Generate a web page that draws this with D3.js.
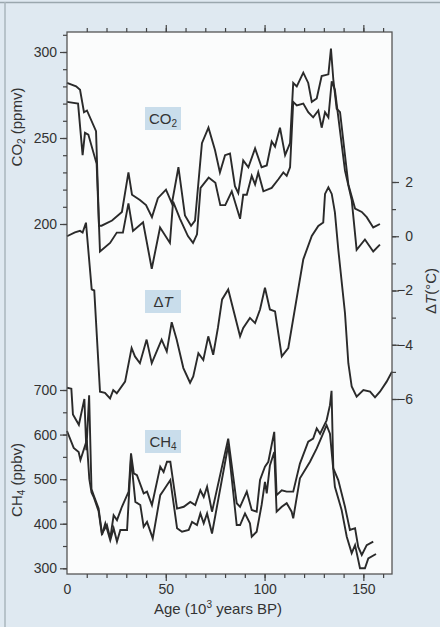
<!DOCTYPE html>
<html>
<head>
<meta charset="utf-8">
<script src="https://cdn.jsdelivr.net/npm/d3@7"></script>
<style>
  body { margin: 0; background: #dfe9f1; }
  svg { display: block; font-family: "Liberation Sans", Arial, sans-serif; }
  .tick line { stroke: #444; }
</style>
</head>
<body>
<div id="chart"></div>
<script>
// Vostok record, values (age in 10^3 years BP)
const co2UpperAge = [0,4.6,6.6,8.6,10.1,14.7,16.2,17.5,22.8,27.8,31.1,32.9,36.9,40,43,46,50.1,53.1,56.4,59.7,62.8,64.8,68.3,71.6,74.9,77.4,80,82.5,85,86.7,89.2,91.8,95.2,98.5,101.1,103.6,105.3,107.8,110.4,112.9,114.5,116.3,119.6,122.1,123.9,126.4,128.9,132.3,133.6,134.8,136.5,138.2,142.4,145.8,149.2,151.7,155,158.4];
const co2Upper    = [282,280,278,265,266,254,199,199,202,207,230,217,214,211,204,215,220,212,233,205,199,202,247,256,243,230,240,241,222,218,237,233,244,233,234,248,245,256,240,247,282,280,288,282,271,273,286,287,302,284,267,265,223,209,207,204,198,200];

const co2LowerAge = [0,5.6,7.9,9.1,10.8,15,16.7,21.8,25.2,28.3,31.1,33.4,38.5,42.9,47.1,52.1,53.7,57.2,61.2,63.8,65.8,67.6,71.7,75.1,77.6,80.1,83.4,87.6,89.2,91,93.5,95.2,96.8,99.4,103.6,107,109.5,111.2,112.9,114.5,116.3,119.6,122.1,124.6,127.2,128.9,130.6,132.3,134,135.6,140.7,144.1,146.6,150.8,155,158.4];
const co2Lower    = [271,270,240,253,252,235,184,189,195,195,212,196,201,174,198,189,213,203,193,189,194,221,227,224,211,211,219,203,217,217,228,223,230,219,221,226,230,228,233,271,269,270,265,262,266,256,265,262,283,278,231,214,185,191,184,188];

const tempAge = [0,4,6.6,7.9,9.6,12.5,13.8,16.7,19.2,21.8,23.4,25.2,29.4,32.7,34.4,36.9,40.3,42.9,47.9,50.5,53,55.5,58.9,62.3,63.9,66.5,69,71.5,74,76.4,78.5,81.6,87.6,89.2,92.6,95.2,97.7,100.2,102.7,105.3,108.7,112,119.6,123.9,127.2,129.7,130.6,132.3,134,135.6,137.3,140.7,142.4,144.1,146.6,150,153.4,155.9,158.4,161.8,164.5];
const temp    = [0,0.14,0.2,0.14,0.5,-1.96,-2,-5.73,-5.77,-5.98,-5.67,-5.79,-5.36,-4.12,-4.43,-4.68,-3.81,-4.68,-3.81,-4.25,-3.17,-3.81,-4.86,-5.4,-5.17,-4.31,-4.56,-3.69,-4.37,-3.37,-2.33,-1.96,-3.69,-3.38,-3.01,-3.2,-2.7,-1.9,-2.7,-2.77,-4.43,-4.12,-0.85,0.01,0.38,0.51,1.56,1.8,1.56,0.88,-0.48,-2.83,-4.68,-5.54,-5.91,-5.67,-5.73,-5.94,-5.73,-5.36,-4.99];

const ch4UpperAge = [0,2.2,3,6,8.8,9.8,11.2,12.4,13.5,16,17.7,20.2,21.9,23.6,25.3,27.8,31.2,32.4,33.8,35.4,38.8,40.5,43,47.2,48.9,50.6,52.3,55.7,59.1,62.4,64.9,67.5,69.2,70.9,73.4,81.6,85.9,87.6,91,93.5,96,97.7,100.2,101.9,104.9,106.1,108.7,111.2,114.5,117.9,122.1,124.6,126.4,128.1,131.4,133.1,133.9,134.8,137.3,140.7,143.2,145.8,147.4,149.2,151.7,155];
const ch4Upper    = [705,703,645,622,680,565,688,478,464,434,378,397,367,419,408,438,472,558,513,509,468,472,442,528,516,539,539,434,438,449,442,475,460,483,427,591,446,438,472,431,427,498,528,539,606,464,475,472,472,535,584,591,614,602,632,666,698,524,498,438,386,390,348,330,352,360];

const ch4LowerAge = [0,3.4,5.9,6.8,10,11.3,12.4,13.5,16,17.7,19.4,21.9,23.6,25.3,27,30.4,32.4,34.6,37.1,38.8,40.5,43.4,47.2,48.9,52.3,55.7,58.2,61.6,63.3,65.8,67.5,69.2,70.9,73.4,81.6,85.9,87.6,90.1,92.6,93.5,96,98.5,100.2,101.1,102.7,104.9,106.1,108.7,111.2,113.7,114.5,117.9,123,126.4,128.9,131.4,133.1,135.6,139,141.6,144.1,145.8,147.4,148.3,150.8,152.5,156.4];
const ch4Lower    = [608,570,561,543,587,500,470,460,428,375,401,363,390,360,386,386,546,449,442,393,404,367,464,475,498,390,382,386,404,397,423,401,423,378,576,397,397,423,401,371,382,442,494,468,531,561,427,438,446,427,412,502,539,569,595,621,602,483,431,371,334,352,319,300,300,322,332];

const co2Ticks = [200, 250, 300];
const tempTicks = [-6, -4, -2, 0, 2];
const ch4Ticks = [300, 400, 500, 600, 700];
const ageTicks = [0, 50, 100, 150];

const W = 440, H = 627;
const frame = { left: 67, right: 392, top: 32, bottom: 574 };

const svg = d3.select('#chart').append('svg')
  .attr('width', W)
  .attr('height', H);

// page edge of the scan
svg.append('line').attr('x1', 0).attr('x2', W).attr('y1', 2.5).attr('y2', 2.5)
  .attr('stroke', '#9aa7ae').attr('stroke-width', 1.5);
svg.append('line').attr('x1', 5).attr('x2', 5).attr('y1', 2).attr('y2', H)
  .attr('stroke', '#aab6bd').attr('stroke-width', 1.5);

svg.append('rect')
  .attr('x', frame.left).attr('y', frame.top)
  .attr('width', frame.right - frame.left).attr('height', frame.bottom - frame.top)
  .attr('fill', '#fbfcfc');

let x = d3.scaleLinear().domain([0, 164.5]).range([frame.left, frame.right]);
let yCO2 = d3.scaleLinear().domain([200, 300]).range([224, 52]);
let yT = d3.scaleLinear().domain([-6, 2]).range([399, 182]);
let yCH4 = d3.scaleLinear().domain([300, 700]).range([568.3, 390]);

// label boxes
const boxes = [
  { y: 107, parts: [['CO', 0], ['2', 1]] },
  { y: 290, parts: [['\u0394', 0], ['T', 2]] },
  { y: 430, parts: [['CH', 0], ['4', 1]] }
];
boxes.forEach(b => {
  svg.append('rect').attr('x', 145).attr('y', b.y).attr('width', 36).attr('height', 23)
    .attr('fill', '#c9ddeb');
  let t = svg.append('text').attr('x', 163).attr('y', b.y + 17)
    .attr('text-anchor', 'middle').attr('font-size', 15).attr('fill', '#333');
  b.parts.forEach(p => {
    let s = t.append('tspan').text(p[0]);
    if (p[1] === 1) s.attr('font-size', 10).attr('dy', 3);
    if (p[1] === 2) s.attr('font-style', 'italic');
  });
});

// series
const line = (xs, ys, yScale) => {
  const pts = xs.map((a, i) => [x(a), yScale(ys[i])]);
  svg.append('path')
    .attr('d', d3.line()(pts))
    .attr('fill', 'none')
    .attr('stroke', '#2a2a2a')
    .attr('stroke-width', 1.9)
    .attr('stroke-linejoin', 'miter');
};
line(co2UpperAge, co2Upper, yCO2);
line(co2LowerAge, co2Lower, yCO2);
line(tempAge, temp, yT);
line(ch4UpperAge, ch4Upper, yCH4);
line(ch4LowerAge, ch4Lower, yCH4);

// frame
svg.append('rect')
  .attr('x', frame.left).attr('y', frame.top)
  .attr('width', frame.right - frame.left).attr('height', frame.bottom - frame.top)
  .attr('fill', 'none').attr('stroke', '#555').attr('stroke-width', 1.3);

// axes: minor ticks then major ticks with labels
function addAxis(axisFn, scale, minor, major, pos, labels) {
  let g1 = svg.append('g').attr('transform', pos)
    .call(axisFn(scale).tickValues(minor).tickSize(4).tickFormat(''));
  let g2 = svg.append('g').attr('transform', pos)
    .call(axisFn(scale).tickValues(major).tickSize(7).tickPadding(3)
      .tickFormat(labels ? d3.format('') : ''));
  g1.select('.domain').remove();
  g2.select('.domain').remove();
  svg.selectAll('.tick line').attr('stroke-width', 1.2);
  return g2;
}

addAxis(d3.axisLeft, yCO2, d3.range(200, 311, 10), co2Ticks, `translate(${frame.left},0)`, true);
addAxis(d3.axisLeft, yCH4, d3.range(300, 701, 50), ch4Ticks, `translate(${frame.left},0)`, true);
let rAxis = addAxis(d3.axisRight, yT, d3.range(-6, 3, 1), tempTicks, `translate(${frame.right},0)`, true);
rAxis.selectAll('text').attr('text-anchor', 'end').attr('x', 21);
addAxis(d3.axisBottom, x, d3.range(10, 161, 10), ageTicks, `translate(0,${frame.bottom})`, true)
  .selectAll('.tick').filter(d => d === 0).select('line').remove();
addAxis(d3.axisTop, x, d3.range(10, 161, 10), ageTicks.slice(1), `translate(0,${frame.top})`, false);

svg.selectAll('.tick text').attr('font-size', 14).attr('fill', '#333');

// axis titles
let t1 = svg.append('text').attr('transform', 'translate(22,127) rotate(-90)')
  .attr('text-anchor', 'middle').attr('font-size', 15).attr('fill', '#333');
t1.append('tspan').text('CO');
t1.append('tspan').text('2').attr('font-size', 10).attr('dy', 3);
t1.append('tspan').text(' (ppmv)').attr('dy', -3);

let t2 = svg.append('text').attr('transform', 'translate(22,480) rotate(-90)')
  .attr('text-anchor', 'middle').attr('font-size', 15).attr('fill', '#333');
t2.append('tspan').text('CH');
t2.append('tspan').text('4').attr('font-size', 10).attr('dy', 3);
t2.append('tspan').text(' (ppbv)').attr('dy', -3);

let t3 = svg.append('text').attr('transform', 'translate(436,291) rotate(-90)')
  .attr('text-anchor', 'middle').attr('font-size', 15).attr('fill', '#333');
t3.append('tspan').text('\u0394');
t3.append('tspan').text('T').attr('font-style', 'italic');
t3.append('tspan').text('(\u00b0C)');

let t4 = svg.append('text').attr('x', 218).attr('y', 614)
  .attr('text-anchor', 'middle').attr('font-size', 15).attr('fill', '#333');
t4.append('tspan').text('Age (10');
t4.append('tspan').text('3').attr('font-size', 10).attr('dy', -6);
t4.append('tspan').text(' years BP)').attr('dy', 6);
</script>
</body>
</html>
